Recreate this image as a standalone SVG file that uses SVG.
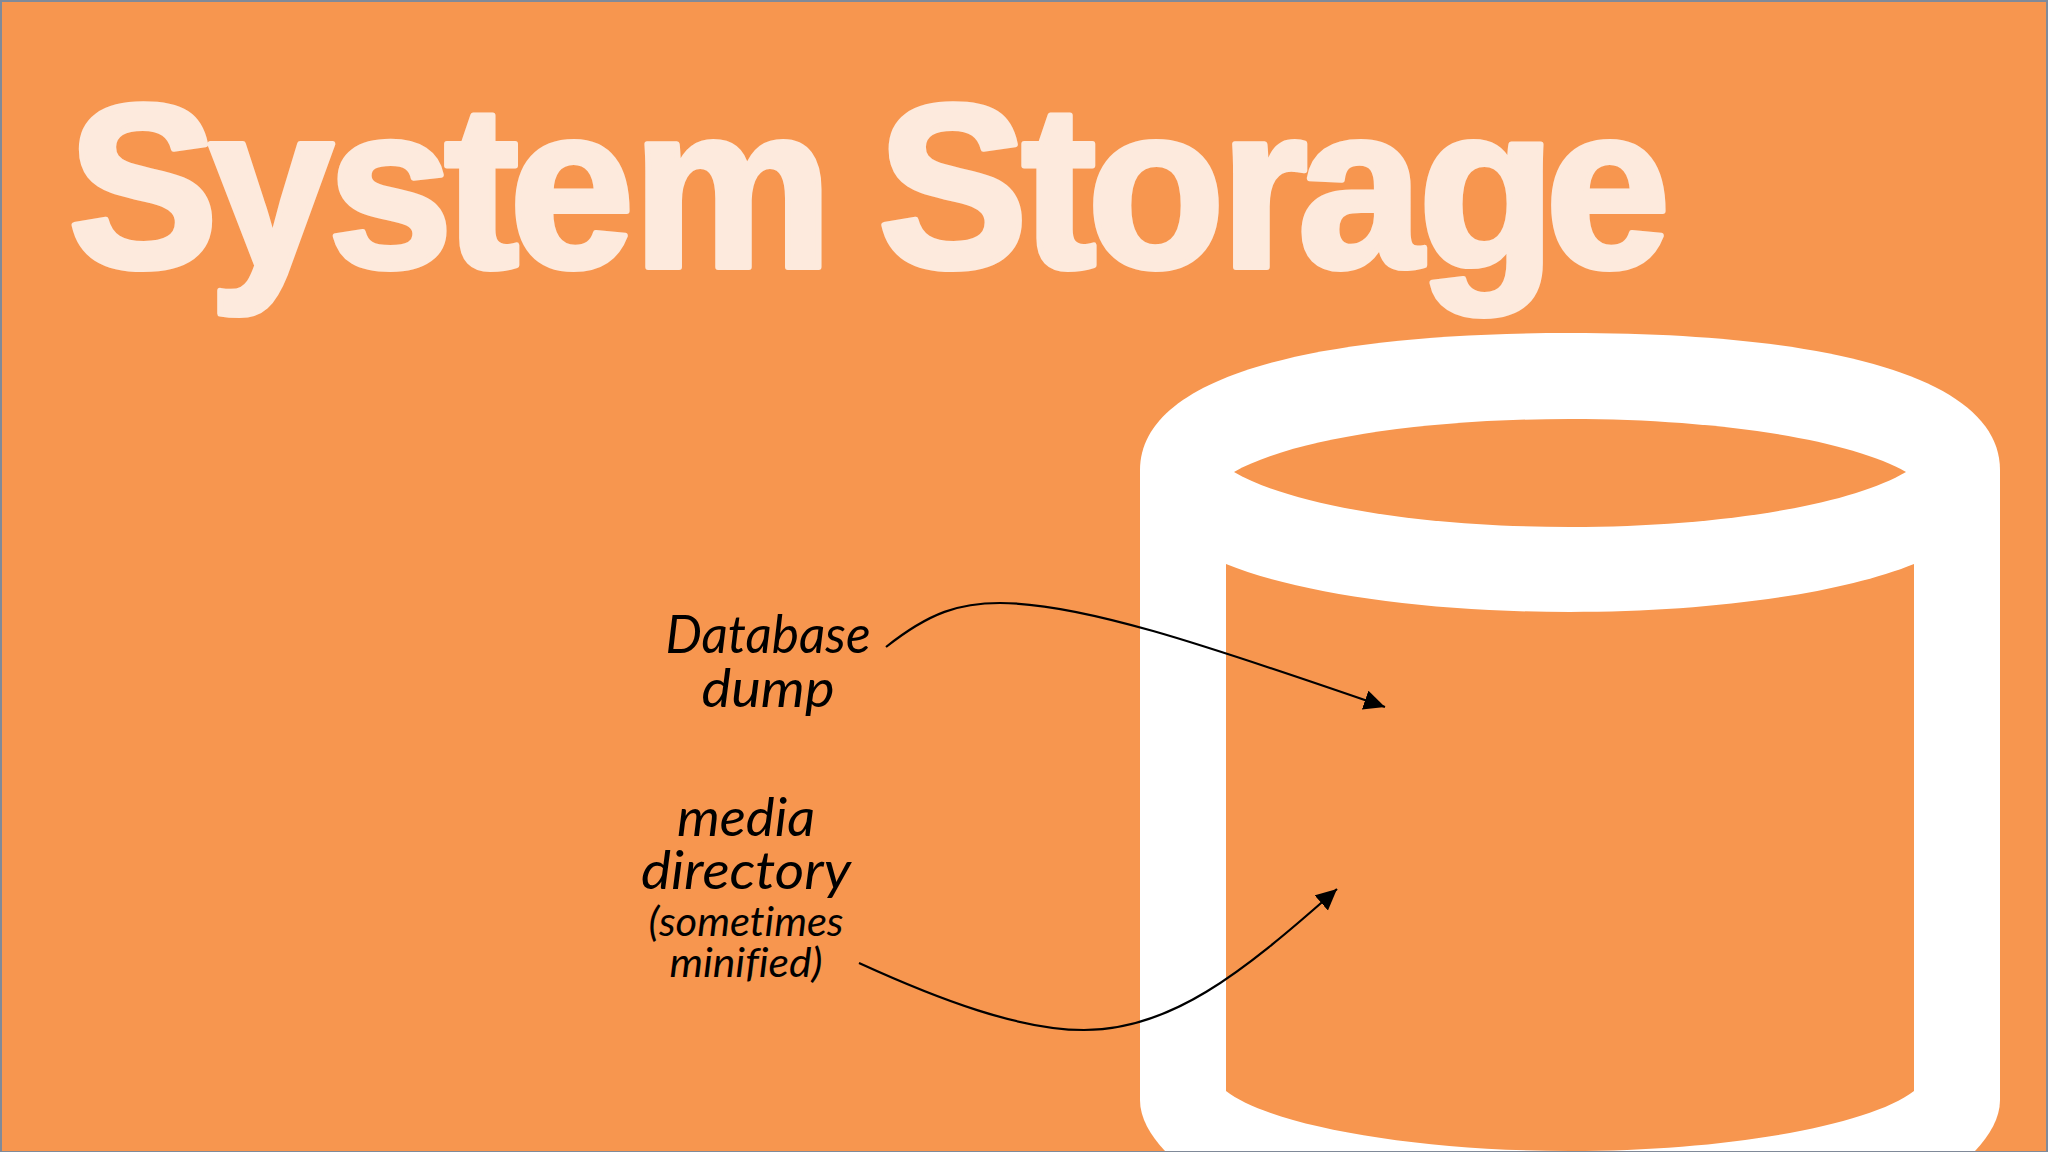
<svg xmlns="http://www.w3.org/2000/svg" width="2048" height="1152" viewBox="0 0 2048 1152">
<style>
.title{font-family:"Liberation Sans",Arial,sans-serif;font-weight:700;font-size:232px;fill:#fdeadd;stroke:#fdeadd;stroke-width:6px;stroke-linejoin:round}
.big{font-family:"Lato","Open Sans",sans-serif;font-style:italic;font-size:53px;fill:#000;text-anchor:middle;font-variant-ligatures:none}
.small{font-family:"Lato","Open Sans",sans-serif;font-style:italic;font-size:41px;fill:#000;text-anchor:middle;font-variant-ligatures:none}
.link{fill:none;stroke:#000;stroke-width:2.2px}
</style>
<defs>
<marker id="arrow" markerUnits="userSpaceOnUse" markerWidth="24" markerHeight="22" refX="21" refY="10" orient="auto"><path d="M0 0L21 10L0 20Z" fill="#000"/></marker>
</defs>
<rect width="2048" height="1152" fill="#808a99"/>
<rect x="2" y="2" width="2044" height="1149" fill="#f7964f"/>
<g id="cylinder">
<path d="M1140 470C1140 380 1300 333 1570 333C1840 333 2000 380 2000 470V1100C2000 1118 1990 1135 1975 1151H1165C1150 1135 1140 1118 1140 1100Z" fill="#fff"/>
<path d="M1234 472C1290 440 1420 419 1570 419C1720 419 1850 440 1906 472C1850 505 1720 527 1570 527C1420 527 1290 505 1234 472Z" fill="#f7964f"/>
<path d="M1226 564C1300 594 1430 612 1570 612C1710 612 1840 594 1914 564V1091C1870 1125 1730 1151 1570 1151C1410 1151 1270 1125 1226 1091Z" fill="#f7964f"/>
</g>
<g id="title"><text class="title" transform="scale(.97 1)" y="267" x="70 215 338 458 525 652 850 905 1053 1121 1258 1338 1462 1593">System Storage</text></g>
<g id="label-database"><text class="big" x="768" y="653" textLength="205" lengthAdjust="spacingAndGlyphs">Database</text><text class="big" x="768" y="707" textLength="133" lengthAdjust="spacingAndGlyphs">dump</text></g>
<g id="label-media"><text class="big" x="746" y="836" textLength="138" lengthAdjust="spacingAndGlyphs">media</text><text class="big" x="746" y="889" textLength="210" lengthAdjust="spacingAndGlyphs">directory</text><text class="small" x="746" y="936" textLength="195" lengthAdjust="spacingAndGlyphs">(sometimes</text><text class="small" x="746" y="977" textLength="153" lengthAdjust="spacingAndGlyphs">minified)</text></g>
<g id="connectors">
<path class="link" marker-end="url(#arrow)" d="M886 647C930 612 960 603 1000 603C1080 603 1200 643 1385 707"/>
<path class="link" marker-end="url(#arrow)" d="M859 963C940 1000 1020 1030 1084 1030C1170 1030 1240 975 1337 889"/>
</g>
</svg>
